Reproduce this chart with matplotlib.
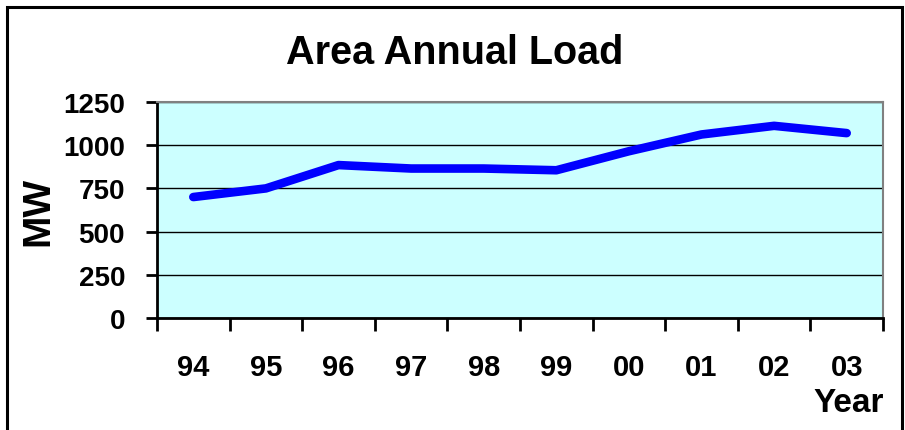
#Recreate the "Area Annual Load" line chart
import numpy as np
import matplotlib
matplotlib.use('Agg')
import matplotlib.pyplot as plt
from matplotlib.patches import Rectangle

#chart data
years = ['94', '95', '96', '97', '98', '99', '00', '01', '02', '03']
load_mw = [700, 750, 885, 865, 865, 855, 965, 1062, 1112, 1070]
y_ticks = [0, 250, 500, 750, 1000, 1250]

plt.rcParams['font.family'] = ['Liberation Sans', 'DejaVu Sans']
plt.rcParams['font.weight'] = 'bold'

W, H = 905, 431
fig = plt.figure(figsize=(W / 100, H / 100), dpi=100)
fig.patch.set_facecolor('white')

#plot area in pixel coords
left, right, top, bottom = 157, 883, 103, 319
ax = fig.add_axes([left / W, 1 - bottom / H, (right - left) / W, (bottom - top) / H])
ax.set_facecolor('#CCFFFF')

x = np.arange(len(years))
ax.plot(x, load_mw, color='#0000FF', linewidth=6.2, solid_capstyle='round',
        solid_joinstyle='round', zorder=3)

ax.set_xlim(-0.5, len(years) - 0.5)
ax.set_ylim(0, 1250)

#gridlines
ax.set_yticks(y_ticks)
ax.yaxis.grid(True, color='black', linewidth=1.0)
ax.set_axisbelow(True)

#x ticks at category boundaries, labels at centres
ax.set_xticks(np.arange(-0.5, len(years), 1.0))
ax.set_xticklabels([])
ax.set_xticks(x, minor=True)
ax.set_xticklabels(years, minor=True, fontsize=21, fontweight='bold')
ax.tick_params(axis='x', which='major', direction='out', length=9, width=2, color='black')
ax.tick_params(axis='x', which='minor', length=0, pad=25)
ax.tick_params(axis='y', direction='out', length=8, width=2, color='black', pad=15,
               labelsize=20)
for lab in ax.get_yticklabels():
    lab.set_fontweight('bold')

#spines
for s in ['top', 'right']:
    ax.spines[s].set_color('#808080')
    ax.spines[s].set_linewidth(1.5)
for s in ['left', 'bottom']:
    ax.spines[s].set_color('black')
    ax.spines[s].set_linewidth(2)

#texts
fig.text(455 / W, 1 - 53 / H, 'Area Annual Load', ha='center', va='center',
         fontsize=28.5, fontweight='bold')
fig.text(38 / W, 1 - 211 / H, 'MW', ha='center', va='center', rotation=90,
         fontsize=28, fontweight='bold')
fig.text(884 / W, 1 - 412 / H, 'Year', ha='right', va='baseline',
         fontsize=24, fontweight='bold')

#outer border of the chart
fig.add_artist(Rectangle((7 / W, -0.1), (902 - 7) / W, 1.1 - 8 / H,
                         transform=fig.transFigure, fill=False,
                         edgecolor='black', linewidth=2.2, clip_on=False))

plt.savefig('out.png', dpi=100)
